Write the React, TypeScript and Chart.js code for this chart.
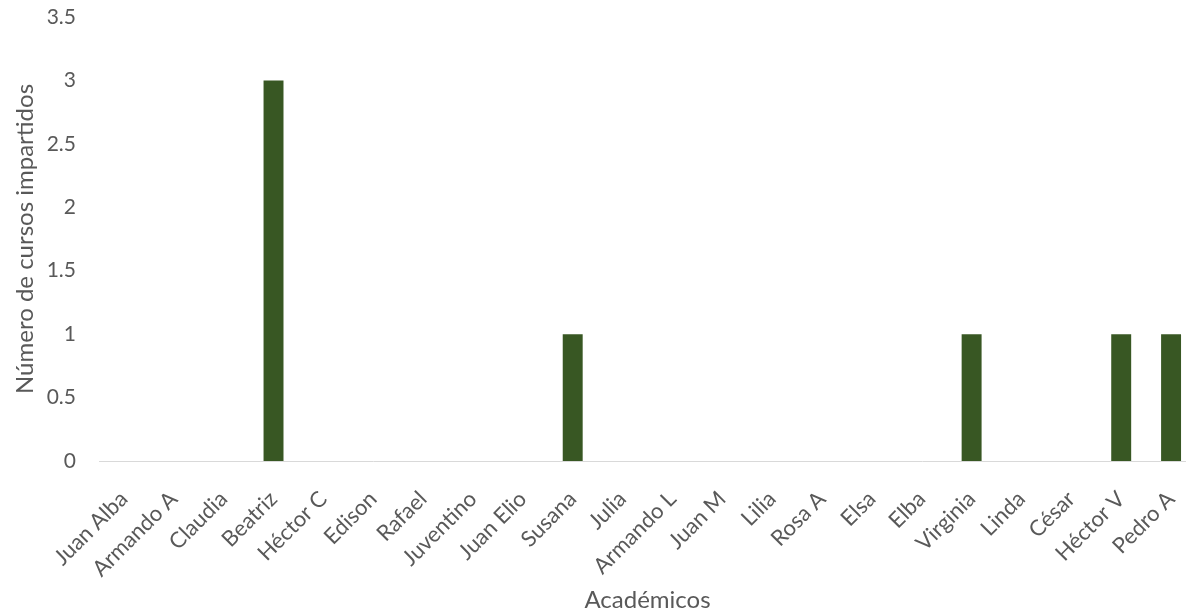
import React, { useEffect, useRef } from "react";
import { Chart, registerables } from "chart.js";

Chart.register(...registerables);

const categories: string[] = [
  "Juan Alba", "Armando A", "Claudia", "Beatriz", "Héctor C", "Edison", "Rafael",
  "Juventino", "Juan Elio", "Susana", "Julia", "Armando L", "Juan M", "Lilia",
  "Rosa A", "Elsa", "Elba", "Virginia", "Linda", "César", "Héctor V", "Pedro A",
];
const cursos: number[] = [0, 0, 0, 3, 0, 0, 0, 0, 0, 1, 0, 0, 0, 0, 0, 0, 0, 1, 0, 0, 1, 1];
const yTitle = "Número de cursos impartidos";
const xTitle = "Académicos";

const FONT = "Lato, 'Open Sans', sans-serif";
const TEXT = "#595959";

export default function App() {
  const ref = useRef<HTMLCanvasElement | null>(null);
  useEffect(() => {
    if (!ref.current) return;
    const chart = new Chart(ref.current, {
      type: "bar",
      data: {
        labels: categories,
        datasets: [
          {
            label: "Cursos",
            data: cursos,
            backgroundColor: "#385723",
            borderWidth: 0,
            categoryPercentage: 1,
            barPercentage: 0.4,
          },
        ],
      },
      options: {
        animation: false,
        responsive: false,
        maintainAspectRatio: false,
        layout: { padding: { left: 0, right: 0, top: 17, bottom: 0 } },
        plugins: { legend: { display: false }, tooltip: { enabled: false } },
        scales: {
          x: {
            grid: { display: false, drawTicks: false },
            border: { display: true, color: "#d9d9d9", width: 1 },
            ticks: {
              color: TEXT,
              font: { family: FONT, size: 22 },
              minRotation: 45,
              maxRotation: 45,
              autoSkip: false,
              padding: 25,
            },
            title: {
              display: true,
              text: xTitle,
              color: TEXT,
              font: { family: FONT, size: 24 },
              padding: { top: 0, bottom: 1 },
            },
            afterFit: (scale: any) => {
              scale.height = 155;
              scale.paddingLeft = 0;
              scale.paddingRight = 0;
            },
          },
          y: {
            min: 0,
            max: 3.5,
            grid: { display: false, drawTicks: false },
            border: { display: false },
            ticks: {
              stepSize: 0.5,
              color: TEXT,
              font: { family: FONT, size: 21 },
              padding: 23,
              callback: (v: any) => String(v),
            },
            title: {
              display: true,
              text: yTitle,
              color: TEXT,
              font: { family: FONT, size: 24 },
              padding: { top: 11, bottom: 0 },
            },
            afterFit: (scale: any) => {
              scale.width = 99;
              scale.paddingTop = 0;
              scale.paddingBottom = 0;
            },
          },
        },
      },
    });
    return () => chart.destroy();
  }, []);
  return (
    <div
      style={{
        position: "fixed",
        left: 0,
        top: 0,
        width: 1186,
        height: 616,
        overflow: "hidden",
        background: "#fff",
      }}
    >
      <canvas ref={ref} width={1196} height={616} style={{ display: "block" }} />
    </div>
  );
}
